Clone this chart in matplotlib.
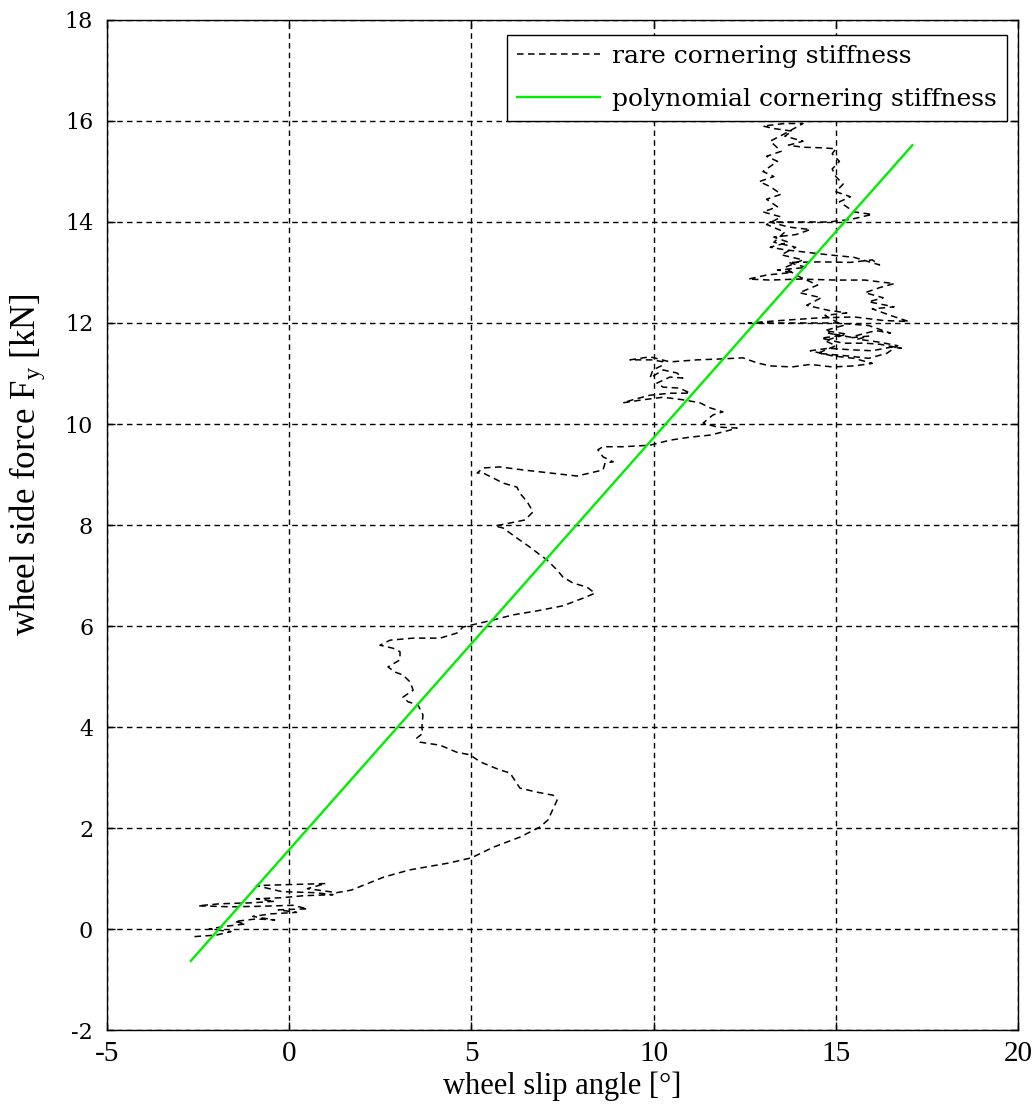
import matplotlib
matplotlib.use("Agg")
import matplotlib.pyplot as plt

plt.rcParams['mathtext.fontset'] = 'custom'
plt.rcParams['mathtext.rm'] = 'Liberation Serif'
plt.rcParams['mathtext.it'] = 'Liberation Serif'

# measured trace: wheel slip angle [deg] and side force [kN]
slip_meas = [
    -2.6, -2.0, -1.6, -2.2, -1.8, -1.2, -1.5, -0.9, -0.4, -1.0, -0.5, 0.2, -0.3, 0.5, 0.1,
    -0.8, -1.6, -2.5, -1.9, -1.0, -0.4, -0.9, -0.2, 0.4, 1.2, 0.7, -0.2, -0.9, 0.0, 1.0,
    0.5, 1.3, 1.7, 2.6, 3.3, 4.4, 5.0, 5.6, 6.33, 6.88, 7.1, 7.35, 7.24, 6.8, 6.33, 6.06,
    5.78, 5.24, 4.96, 4.6, 4.14, 3.59, 3.5, 3.67, 3.64, 3.67, 3.53, 3.26, 3.12, 3.4, 3.32,
    3.12, 2.9, 2.71, 3.04, 3.04, 2.85, 2.49, 2.77, 3.4, 4.14, 4.6, 4.77, 5.24, 5.6, 6.14,
    6.8, 7.51, 8.06, 8.39, 8.17, 7.79, 7.51, 7.35, 7.07, 6.88, 6.61, 6.33, 5.87, 5.65,
    6.06, 6.47, 6.69, 6.61, 6.53, 6.33, 6.25, 5.87, 5.6, 5.32, 5.16, 5.32, 5.78, 6.42,
    7.16, 7.9, 8.25, 8.61, 8.67, 8.89, 8.61, 8.47, 8.61, 9.16, 9.9, 10.45, 11.0, 11.55,
    12.1, 12.29, 11.74, 11.36, 11.63, 11.9, 11.55, 11.27, 10.8, 10.26, 9.71, 9.16, 9.43,
    9.9, 10.45, 11.0, 10.72, 10.26, 10.09, 10.45, 10.8, 10.64, 10.26, 9.9, 9.98, 10.26,
    10.26, 9.98, 9.54, 9.35, 9.9, 10.45, 11.19, 11.9, 12.45, 12.84,
    13.2, 13.8, 14.3, 14.9, 15.5, 16.0, 15.5, 14.9, 14.3, 14.8, 15.4, 16.0, 16.5, 16.8,
    16.2, 15.8, 15.2, 14.6, 15.1, 14.8, 15.4, 16.1, 16.5, 15.9, 15.0, 14.2, 13.4, 12.6,
    13.5, 14.5, 15.5, 16.3, 17.0, 16.5, 16.0, 16.6, 15.9, 16.3, 15.8, 16.2, 16.6, 15.8,
    15.0, 14.0, 13.2, 12.6, 13.1, 13.8, 13.4, 14.2, 13.7, 14.6, 15.4, 16.0, 16.2, 15.5,
    14.8, 14.2, 13.6, 13.2, 13.7, 13.3, 13.9, 14.3, 13.7, 13.2, 14.0, 14.8, 15.4, 16.0,
    15.5, 15.3, 15.1, 15.4, 15.0, 15.2, 15.0, 14.9, 15.1, 14.9, 15.0, 14.6, 14.1, 13.7,
    14.1, 13.6, 13.8, 13.3, 13.0, 13.6, 14.1, 13.6, 13.2, 13.5, 13.1, 13.4, 13.0, 13.3,
    12.9, 13.2, 13.5, 13.1, 13.4, 13.0, 13.5, 13.1,
    13.6, 13.3, 13.9, 13.5, 14.1, 13.6, 13.9, 14.5, 14.0, 14.6, 14.2, 14.8, 15.3, 14.7,
    15.2, 14.7, 15.3, 14.7, 15.0, 14.5, 15.3, 15.9, 16.4, 16.7, 16.2, 15.6, 15.9, 15.3,
]
fy_meas = [
    -0.15, -0.12, -0.05, 0.0, 0.05, 0.1, 0.15, 0.2, 0.18, 0.25, 0.3, 0.33, 0.38, 0.4, 0.47,
    0.45, 0.44, 0.46, 0.5, 0.52, 0.55, 0.6, 0.62, 0.66, 0.68, 0.72, 0.74, 0.86, 0.88, 0.9,
    0.8, 0.72, 0.77, 1.03, 1.17, 1.31, 1.41, 1.62, 1.82, 2.02, 2.16, 2.55, 2.65, 2.71, 2.79, 3.09,
    3.15, 3.31, 3.45, 3.5, 3.64, 3.7, 3.78, 3.88, 3.98, 4.24, 4.44, 4.5, 4.59, 4.73, 4.89,
    5.03, 5.09, 5.19, 5.33, 5.49, 5.56, 5.62, 5.72, 5.76, 5.76, 5.86, 5.98, 6.06, 6.12, 6.22,
    6.3, 6.4, 6.55, 6.65, 6.77, 6.85, 6.97, 7.11, 7.31, 7.41, 7.56, 7.7, 7.94, 7.98,
    8.04, 8.1, 8.26, 8.36, 8.46, 8.63, 8.75, 8.83, 8.93, 9.03, 9.03, 9.13, 9.15, 9.09,
    9.03, 8.97, 9.03, 9.09, 9.23, 9.25, 9.35, 9.49, 9.55, 9.55, 9.58, 9.68, 9.74, 9.78,
    9.88, 9.92, 9.94, 10.02, 10.18, 10.24, 10.32, 10.42, 10.48, 10.53, 10.48, 10.42, 10.48,
    10.57, 10.61, 10.61, 10.71, 10.73, 10.81, 10.93, 10.91, 11.01, 11.07, 10.91, 11.07, 11.17,
    11.23, 11.27, 11.27, 11.27, 11.33, 11.23, 11.27, 11.29, 11.31, 11.21,
    11.15, 11.13, 11.18, 11.13, 11.15, 11.2, 11.3, 11.35, 11.45, 11.5, 11.47, 11.45, 11.52, 11.5,
    11.58, 11.6, 11.6, 11.7, 11.75, 11.8, 11.72, 11.85, 11.8, 11.95, 12.0, 12.0, 12.0, 12.0,
    12.05, 12.1, 12.12, 12.05, 12.03, 12.15, 12.28, 12.32, 12.42, 12.5, 12.6, 12.7, 12.78, 12.85,
    12.85, 12.87, 12.85, 12.87, 12.95, 13.0, 13.05, 13.1, 13.2, 13.21, 13.2, 13.25, 13.15, 13.3,
    13.35, 13.4, 13.45, 13.5, 13.6, 13.7, 13.75, 13.85, 13.9, 14.0, 14.0, 14.0, 14.05, 14.15,
    14.2, 14.3, 14.4, 14.5, 14.6, 14.75, 14.9, 15.05, 15.2, 15.35, 15.45, 15.47, 15.48, 15.52,
    15.6, 15.7, 15.8, 15.85, 15.9, 15.95, 15.95, 15.75, 15.6, 15.4, 15.3, 15.2, 15.0, 14.9,
    14.8, 14.7, 14.55, 14.45, 14.3, 14.2, 14.1, 13.95,
    13.8, 13.6, 13.5, 13.35, 13.25, 13.1, 12.95, 12.75, 12.6, 12.5, 12.35, 12.25, 12.2, 12.15,
    11.95, 11.85, 11.78, 11.65, 11.55, 11.4, 11.35, 11.3, 11.4, 11.55, 11.62, 11.68, 11.74, 11.7,
]

# polynomial fit line
slip_poly = [-2.7, 17.1]
fy_poly = [-0.63, 15.52]

x_ticks = [-5, 0, 5, 10, 15, 20]
y_ticks = [-2, 0, 2, 4, 6, 8, 10, 12, 14, 16, 18]

fig = plt.figure(figsize=(10.35, 11.04), dpi=100)
ax = fig.add_axes([0.1034, 0.0670, 0.8802, 0.9149])

ax.plot(slip_meas, fy_meas, color='k', lw=1.1, dashes=(4.3, 2.9),
        label='rare cornering stiffness')
ax.plot(slip_poly, fy_poly, color='#00ee00', lw=1.7,
        label='polynomial cornering stiffness')

ax.set_xlim(-5, 20)
ax.set_ylim(-2, 18)
ax.set_xticks(x_ticks)
ax.set_yticks(y_ticks)
ax.set_xticklabels([str(v) for v in x_ticks], fontfamily='Liberation Serif', fontsize=21)
ax.set_yticklabels([str(v) for v in y_ticks], fontfamily='DejaVu Serif', fontsize=16)
ax.tick_params(direction='in', length=6, top=True, right=True, width=1)
ax.tick_params(axis='x', pad=8)
ax.tick_params(axis='y', pad=10)
ax.grid(True, color='k', lw=1.0, linestyle=(0, (4, 3)))
for s in ax.spines.values():
    s.set_linewidth(1.0)

ax.set_xlabel('wheel slip angle [°]', fontfamily='Liberation Serif', fontsize=22, labelpad=3)
ax.set_ylabel(r'wheel side force F$_\mathrm{y}$ [kN]', fontfamily='Liberation Serif',
              fontsize=25)
ax.yaxis.set_label_coords(-0.066, 0.56)

leg = ax.legend(loc='upper right', bbox_to_anchor=(0.988, 0.985), borderaxespad=0,
                fancybox=False, framealpha=1, edgecolor='k', handlelength=3.3,
                prop={'family': 'DejaVu Serif', 'size': 18}, labelspacing=0.8,
                borderpad=0.4, handletextpad=0.5)
leg.get_frame().set_linewidth(1.0)

fig.savefig('out.png', dpi=100)
